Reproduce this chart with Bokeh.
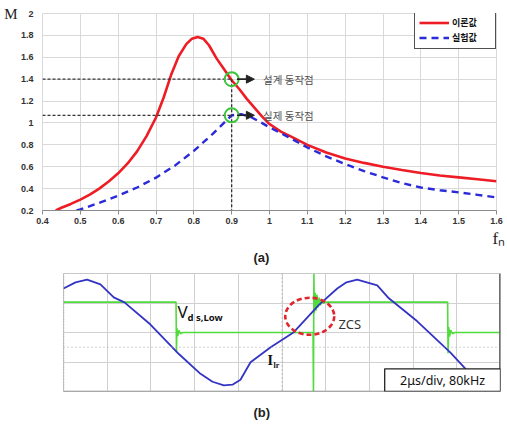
from bokeh.plotting import figure
from bokeh.models import (Label, Arrow, NormalHead, Legend, LegendItem, FixedTicker,
                          BoxAnnotation, Span, Title, LinearAxis)
from bokeh.embed import file_html
from bokeh.resources import INLINE

# ---------------- data: (a) voltage gain vs normalised frequency ----------------
fn_theory = [0.435, 0.45, 0.475, 0.50, 0.525, 0.55, 0.575, 0.60, 0.625, 0.65, 0.675,
             0.70, 0.72, 0.74, 0.76, 0.78, 0.795, 0.81, 0.825, 0.84, 0.86, 0.88, 0.90,
             0.92, 0.94, 0.96, 0.98, 1.00, 1.03, 1.06, 1.10, 1.15, 1.20, 1.25, 1.30,
             1.35, 1.40, 1.45, 1.50, 1.55, 1.60]
M_theory = [0.20, 0.225, 0.26, 0.30, 0.345, 0.40, 0.465, 0.54, 0.63, 0.74, 0.88,
            1.05, 1.23, 1.44, 1.61, 1.72, 1.77, 1.785, 1.77, 1.71, 1.59, 1.49, 1.39,
            1.31, 1.22, 1.14, 1.06, 0.99, 0.92, 0.87, 0.80, 0.73, 0.675, 0.635, 0.60,
            0.57, 0.543, 0.52, 0.503, 0.485, 0.467]
fn_exp = [0.49, 0.50, 0.55, 0.60, 0.65, 0.70, 0.75, 0.80, 0.85, 0.875, 0.90, 0.925,
          0.95, 0.975, 1.00, 1.05, 1.10, 1.15, 1.20, 1.25, 1.30, 1.35, 1.40, 1.45,
          1.50, 1.55, 1.60]
M_exp = [0.20, 0.21, 0.27, 0.335, 0.41, 0.50, 0.61, 0.745, 0.90, 0.985, 1.07, 1.08,
         1.055, 1.01, 0.96, 0.87, 0.776, 0.695, 0.624, 0.56, 0.503, 0.45, 0.41, 0.385,
         0.366, 0.343, 0.32]
legend_labels = ["이론값", "실험값"]

op_fn = [0.9, 0.9]
op_M = [1.4, 1.07]
op_labels = ["설계 동작점", "실제 동작점"]

x_ticks = [0.4, 0.5, 0.6, 0.7, 0.8, 0.9, 1.0, 1.1, 1.2, 1.3, 1.4, 1.5, 1.6]
x_tick_labels = ["0.4", "0.5", "0.6", "0.7", "0.8", "0.9", "1", "1.1", "1.2", "1.3",
                 "1.4", "1.5", "1.6"]
y_ticks = [0.2, 0.4, 0.6, 0.8, 1.0, 1.2, 1.4, 1.6, 1.8, 2.0]
y_tick_labels = ["0.2", "0.4", "0.6", "0.8", "1", "1.2", "1.4", "1.6", "1.8", "2"]

# ---------------- data: (b) oscilloscope waveforms (time in us, level in div) ----------------
t_cur = [0.0, 0.55, 1.08, 1.69, 2.30, 2.79, 3.98, 5.28, 6.27, 6.82, 7.34, 7.73, 8.10,
         8.56, 9.48, 10.54, 11.68, 12.53, 12.95, 13.44, 14.36, 14.89, 16.19, 17.71,
         18.40, 19.08, 19.35]
i_cur = [3.49, 3.70, 3.79, 3.63, 3.19, 3.02, 2.27, 1.27, 0.60, 0.33, 0.21, 0.23, 0.40,
         0.99, 1.50, 2.01, 2.93, 3.49, 3.70, 3.79, 3.60, 3.16, 2.38, 1.32,
         0.77, 0.17, 0.0]
t_vds = [0.0, 5.15, 5.17, 5.19, 5.23, 5.28, 5.35, 5.45, 11.42, 11.44, 11.46, 11.48,
         11.52, 11.56, 11.60, 11.65, 11.70, 11.76, 11.82, 11.90, 12.0, 17.58, 17.60,
         17.63, 17.67, 17.72, 17.80, 17.90, 20.0]
v_vds = [3.03, 3.03, 1.32, 2.15, 1.88, 2.07, 1.96, 2.0, 2.0, 0.0, 4.0, 2.65,
         3.35, 2.75, 3.28, 2.85, 3.18, 2.92, 3.10, 2.99, 3.03, 3.03, 1.30,
         2.18, 1.86, 2.08, 1.96, 2.0, 2.0]
t_grid = [0, 2, 4, 6, 8, 10, 12, 14, 16, 18, 20]
v_grid = [0, 1, 2, 3, 4]
zcs_t, zcs_v = 11.27, 2.55
scale_text = "2μs/div, 80kHz"

# ======================= figure (a) =======================
p1 = figure(width=507, height=265, x_range=(0.4, 1.6), y_range=(0.2, 2.0),
            output_backend="svg", toolbar_location=None,
            min_border_left=42, min_border_right=11, min_border_top=13, min_border_bottom=55)
p1.outline_line_color = "#d9d9d9"

p1.xaxis.ticker = FixedTicker(ticks=x_ticks)
p1.xaxis.major_label_overrides = dict(zip(x_ticks, x_tick_labels))
p1.yaxis.ticker = FixedTicker(ticks=y_ticks)
p1.yaxis.major_label_overrides = dict(zip(y_ticks, y_tick_labels))
p1.xgrid.grid_line_color = "#d9d9d9"
p1.ygrid.grid_line_color = "#d9d9d9"

for ax in (p1.xaxis, p1.yaxis):
    ax.major_label_text_font = "Liberation Sans"
    ax.major_label_text_font_size = "9px"
    ax.major_label_text_font_style = "bold"
    ax.major_label_text_color = "#333333"
    ax.minor_tick_line_color = None
    ax.minor_tick_out = 0
    ax.axis_label_standoff = 0
p1.xaxis.axis_line_color = "#8c8c8c"
p1.xaxis.major_tick_line_color = "#8c8c8c"
p1.xaxis.major_tick_in = 0
p1.xaxis.major_tick_out = 4
p1.xaxis.major_label_standoff = 3
p1.yaxis.axis_line_color = None
p1.yaxis.major_tick_line_color = None
p1.yaxis.major_tick_in = 0
p1.yaxis.major_tick_out = 0
p1.yaxis.major_label_standoff = 9

# axis name "M" shown at the top of the value axis
m_axis = LinearAxis(ticker=FixedTicker(ticks=[y_ticks[-1]]),
                    major_label_overrides={y_ticks[-1]: "M"},
                    axis_line_color=None, major_tick_line_color=None,
                    minor_tick_line_color=None, major_tick_in=0, major_tick_out=0,
                    minor_tick_out=0, axis_label_standoff=0, major_label_standoff=0,
                    major_label_text_font="Liberation Serif",
                    major_label_text_font_size="15px", major_label_text_color="#222222")
p1.add_layout(m_axis, "left")

r_th = p1.line(fn_theory, M_theory, line_color="#ee1c24", line_width=2.6)
r_ex = p1.line(fn_exp, M_exp, line_color="#2a2ad8", line_width=2.4, line_dash="7 5")

xmin = x_ticks[0]
ymin = y_ticks[0]
p1.segment(x0=[xmin, xmin, op_fn[0]], y0=[op_M[0], op_M[1], op_M[0]],
           x1=[op_fn[0], op_fn[1], op_fn[0]], y1=[op_M[0], op_M[1], ymin],
           line_color="#333333", line_width=1.3, line_dash="3 2")
p1.scatter(op_fn, op_M, marker="circle", size=14, fill_color=None,
           line_color="#3cc43c", line_width=2)

for f, m, lab in zip(op_fn, op_M, op_labels):
    p1.add_layout(Arrow(x_start=f + 0.014, y_start=m, x_end=f + 0.06, y_end=m,
                        end=NormalHead(size=8, fill_color="#222222", line_color="#222222"),
                        line_color="#222222", line_width=1.6))
    p1.add_layout(Label(x=f + 0.083, y=m, text=lab, text_baseline="middle",
                        text_font="Noto Sans CJK KR", text_font_size="10.5px",
                        text_color="#505050"))

legend = Legend(items=[LegendItem(label=legend_labels[0], renderers=[r_th]),
                       LegendItem(label=legend_labels[1], renderers=[r_ex])],
                location=(372, 161), margin=0, padding=4, spacing=2,
                glyph_width=30, glyph_height=13, label_height=13, label_width=39,
                label_standoff=3, label_text_font="Noto Sans CJK KR",
                label_text_font_size="9px", label_text_font_style="bold",
                label_text_color="#111111",
                border_line_color="#505050", border_line_width=1.6, border_line_alpha=1,
                background_fill_color="white", background_fill_alpha=1)
p1.add_layout(legend)

p1.add_layout(Title(text="fₙ", align="left", offset=450, standoff=0,
                    text_font="Liberation Serif", text_font_size="17px",
                    text_font_style="normal", text_color="#222222"), "below")
p1.add_layout(Title(text="(a)", align="left", offset=211, standoff=0,
                    text_font="Liberation Sans", text_font_size="13px",
                    text_font_style="bold", text_color="#222222"), "below")

# ======================= figure (b) =======================
p2 = figure(width=507, height=165, x_range=(0, 20), y_range=(0, 4),
            x_axis_location=None, y_axis_location=None,
            output_backend="svg", toolbar_location=None,
            min_border_left=63, min_border_right=7, min_border_top=8, min_border_bottom=37)
p2.outline_line_color = "#c8c8c8"
p2.xgrid.ticker = FixedTicker(ticks=t_grid)
p2.ygrid.ticker = FixedTicker(ticks=v_grid)
p2.xgrid.grid_line_color = "#d0d0d0"
p2.ygrid.grid_line_color = "#d0d0d0"

p2.add_layout(Span(location=10, dimension="height", line_color="#aaaaaa",
                   line_dash="1 3", line_width=1.2))
p2.add_layout(Span(location=1.5, dimension="width", line_color="#aaaaaa",
                   line_dash="1 3", line_width=1.2))
p2.add_layout(Span(location=0, dimension="height", line_color="#888888",
                   line_dash="1 2", line_width=1.5))
p2.add_layout(Span(location=0, dimension="width", line_color="#888888", line_width=1.5))
p2.add_layout(Span(location=20, dimension="height", line_color="#707070", line_width=3))

p2.line(t_vds, v_vds, line_color="#4fdc3c", line_width=1.6)
p2.line(t_cur, i_cur, line_color="#3434c4", line_width=1.8)

p2.ellipse(x=[zcs_t], y=[zcs_v], width=49, height=37, width_units="screen",
           height_units="screen", fill_color=None, line_color="#e0262b",
           line_width=2.6, line_dash="5 3")

p2.add_layout(BoxAnnotation(left=14.7, right=20, bottom=0, top=0.77,
                            fill_color="white", fill_alpha=1,
                            line_color="#222222", line_alpha=1, line_width=1.3))
p2.add_layout(Label(x=17.35, y=0.385, text=scale_text, text_align="center",
                    text_baseline="middle", text_font="Noto Sans",
                    text_font_size="12.5px", text_color="#111111"))

p2.add_layout(Label(x=114, y=80, x_units="screen", y_units="screen", text="V",
                    text_font="Noto Sans", text_font_size="17px",
                    text_baseline="middle", text_color="#111111"))
p2.add_layout(Label(x=124, y=74, x_units="screen", y_units="screen", text="d s,Low",
                    text_font="Noto Sans", text_font_size="9.5px",
                    text_font_style="bold", text_baseline="middle",
                    text_color="#111111"))
p2.add_layout(Label(x=275, y=68, x_units="screen", y_units="screen", text="ZCS",
                    text_font="Noto Sans", text_font_size="13px",
                    text_baseline="middle", text_color="#333333"))
p2.add_layout(Label(x=204, y=31, x_units="screen", y_units="screen", text="I",
                    text_font="Liberation Serif", text_font_size="14px",
                    text_font_style="bold", text_baseline="middle",
                    text_color="#111111"))
p2.add_layout(Label(x=210, y=26, x_units="screen", y_units="screen", text="lr",
                    text_font="Liberation Serif", text_font_size="8px",
                    text_font_style="bold", text_baseline="middle",
                    text_color="#111111"))
p2.add_layout(Title(text="(b)", align="left", offset=190, standoff=22,
                    text_font="Liberation Sans", text_font_size="13px",
                    text_font_style="bold", text_color="#222222"), "below")

open("out.html", "w").write(file_html([p1, p2], INLINE))
